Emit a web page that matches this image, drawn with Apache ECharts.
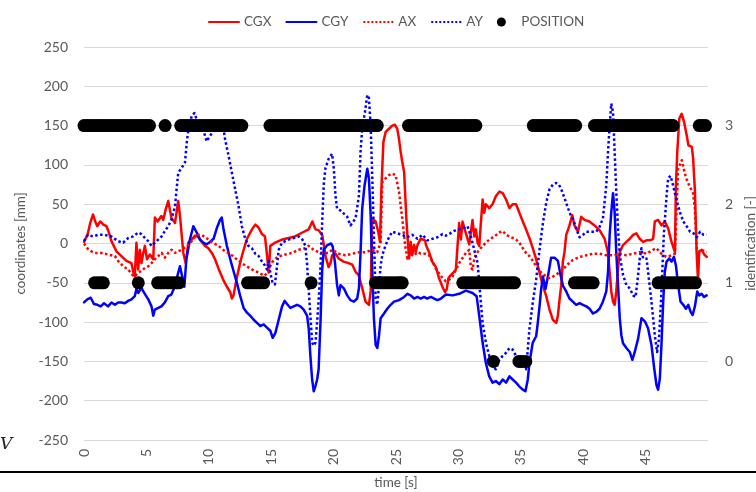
<!DOCTYPE html>
<html><head><meta charset="utf-8">
<script src="https://cdn.jsdelivr.net/npm/echarts@6.0.0/dist/echarts.min.js"></script>
<style>html,body{margin:0;padding:0;background:#fff}#c{width:756px;height:492px}</style>
</head><body><div id="c"></div>
<script>
// time [s] / value pairs
const CGX = [[0,2],[0.3,12],[0.5,26],[0.72,37],[0.9,28],[1.07,22],[1.3,28],[1.55,24],[1.8,22],[1.95,16],[2.2,3],[2.6,-10],[3.0,-16],[3.4,-22],[3.8,-25],[3.95,-36],[4.07,-42],[4.2,1],[4.34,-33],[4.47,-8],[4.6,-25],[4.75,-12],[4.88,-3],[5.05,-20],[5.28,-14],[5.55,-20],[5.68,33],[5.9,28],[6.2,35],[6.35,30],[6.54,43],[6.75,54],[7.0,33],[7.29,26],[7.55,54],[7.69,35],[7.96,-12],[8.15,-25],[8.36,1],[8.63,5],[8.9,10],[9.16,8],[9.43,2],[9.7,-3],[9.97,-6],[10.24,-12],[10.5,-20],[10.78,-32],[11.18,-47],[11.45,-55],[11.72,-62],[11.85,-70],[11.98,-66],[12.25,-43],[12.52,-24],[12.79,-8],[13.06,6],[13.46,18],[13.73,24],[14.0,20],[14.26,12],[14.5,9],[14.66,-14],[14.8,-37],[14.93,-3],[15.3,1],[15.87,5],[16.4,7],[16.9,9],[17.5,14],[18.0,18],[18.3,28],[18.55,18],[18.8,17],[19.1,10],[19.35,-16],[19.6,-30],[19.75,-25],[19.88,-15],[20.15,-13],[20.4,-19],[20.8,-23],[21.2,-25],[21.5,-27],[21.76,-36],[22.0,-40],[22.3,-57],[22.56,-74],[22.83,-78],[22.97,-61],[23.1,32],[23.37,28],[23.58,15],[23.72,2],[23.83,70],[23.99,129],[24.17,142],[24.44,146],[24.7,150],[24.92,151],[25.1,146],[25.24,133],[25.38,116],[25.5,104],[25.65,91],[25.73,65],[25.83,32],[25.91,11],[26.05,-19],[26.18,2],[26.3,-15],[26.45,-2],[26.58,-11],[26.72,-2],[26.85,2],[26.98,6],[27.1,8],[27.33,4],[27.4,-2],[27.65,-11],[27.9,-23],[28.2,-30],[28.45,-44],[28.72,-55],[28.93,-62],[29.07,-58],[29.2,-44],[29.4,-40],[29.6,-37],[29.8,-33],[30.06,26],[30.2,5],[30.33,28],[30.6,13],[30.87,-1],[31.13,30],[31.27,9],[31.4,18],[31.54,1],[31.67,-3],[31.8,26],[31.94,56],[32.07,39],[32.2,50],[32.47,45],[32.74,50],[33.0,60],[33.28,66],[33.55,64],[33.82,56],[34.09,45],[34.35,50],[34.62,50],[34.89,39],[35.16,28],[35.42,18],[35.69,7],[35.96,-6],[36.23,-20],[36.5,-37],[36.77,-54],[37.04,-67],[37.3,-84],[37.57,-97],[37.84,-101],[37.97,-92],[38.1,-72],[38.24,-53],[38.37,-23],[38.5,-11],[38.64,11],[38.9,23],[39.12,36],[39.3,23],[39.58,15],[39.84,34],[40.1,30],[40.5,28],[40.91,23],[41.31,17],[41.72,6],[41.98,-11],[42.12,-36],[42.25,-61],[42.39,-74],[42.52,-78],[42.65,-61],[42.79,-32],[42.93,-11],[43.19,-2],[43.46,2],[43.73,6],[44.0,11],[44.26,13],[44.53,6],[44.8,2],[45.07,4],[45.34,4],[45.6,6],[45.74,28],[46.0,30],[46.27,23],[46.54,28],[46.81,19],[47.08,2],[47.35,-11],[47.43,74],[47.54,117],[47.7,159],[47.89,165],[48.08,155],[48.29,138],[48.43,125],[48.7,123],[48.8,110],[48.95,68],[49.09,-12],[49.2,-46],[49.3,-10],[49.5,-8],[49.7,-14],[49.9,-17]];

const CGY = [[0,-75],[0.27,-71],[0.54,-69],[0.8,-77],[1.07,-78],[1.34,-80],[1.6,-76],[1.93,-80],[2.2,-75],[2.47,-78],[2.73,-75],[3.0,-75],[3.27,-76],[3.54,-73],[3.8,-71],[4.07,-67],[4.2,-58],[4.34,-63],[4.47,-62],[4.6,-56],[4.75,-61],[4.88,-63],[5.15,-71],[5.41,-80],[5.55,-92],[5.68,-84],[5.95,-82],[6.2,-80],[6.48,-75],[6.75,-67],[7.0,-65],[7.29,-54],[7.55,-37],[7.69,-29],[7.87,-42],[8.04,-55],[8.2,-20],[8.5,6],[8.76,22],[9.03,14],[9.3,5],[9.56,1],[9.83,-1],[10.1,2],[10.38,6],[10.65,20],[10.9,30],[11.04,33],[11.18,18],[11.45,-3],[11.72,-20],[11.98,-35],[12.25,-50],[12.52,-67],[12.79,-82],[13.06,-88],[13.33,-92],[13.6,-97],[13.86,-101],[14.13,-105],[14.4,-103],[14.66,-107],[14.93,-111],[15.12,-120],[15.33,-114],[15.6,-97],[15.87,-80],[16.08,-73],[16.27,-77],[16.54,-82],[16.8,-80],[17.07,-78],[17.34,-80],[17.6,-84],[17.88,-92],[18.01,-109],[18.14,-143],[18.28,-173],[18.41,-188],[18.55,-181],[18.68,-173],[18.8,-160],[18.95,-100],[19.08,-35],[19.21,-8],[19.5,-2],[19.8,0],[19.93,-4],[20.1,-23],[20.28,-53],[20.42,-66],[20.55,-53],[20.82,-57],[21.09,-66],[21.35,-72],[21.62,-74],[21.89,-70],[22.03,-57],[22.16,-11],[22.29,44],[22.48,74],[22.7,95],[22.83,83],[22.97,36],[23.1,-36],[23.23,-95],[23.37,-129],[23.5,-133],[23.64,-117],[23.77,-95],[24.04,-89],[24.3,-83],[24.57,-78],[24.84,-74],[25.24,-72],[25.65,-68],[25.91,-64],[26.18,-66],[26.45,-70],[26.72,-68],[26.98,-70],[27.25,-68],[27.5,-70],[27.8,-68],[28.06,-70],[28.33,-72],[28.6,-70],[29.0,-65],[29.53,-66],[30.06,-64],[30.6,-60],[31.13,-63],[31.46,-67],[31.67,-92],[31.94,-126],[32.2,-152],[32.47,-169],[32.74,-177],[33.0,-175],[33.28,-179],[33.55,-173],[33.82,-177],[34.09,-169],[34.35,-173],[34.62,-177],[34.89,-182],[35.16,-186],[35.37,-188],[35.56,-173],[35.69,-152],[35.96,-126],[36.23,-118],[36.36,-101],[36.5,-80],[36.63,-58],[36.77,-42],[36.98,-58],[37.17,-42],[37.43,-18],[37.7,-18],[37.97,-22],[38.16,-38],[38.38,-54],[38.64,-61],[38.9,-70],[39.17,-74],[39.44,-78],[39.71,-76],[39.98,-78],[40.25,-80],[40.51,-83],[40.78,-89],[41.05,-87],[41.31,-83],[41.58,-74],[41.85,-61],[41.99,-36],[42.12,11],[42.25,40],[42.39,64],[42.52,40],[42.65,-11],[42.79,-53],[42.93,-95],[43.06,-117],[43.19,-127],[43.46,-133],[43.73,-138],[43.94,-148],[44.13,-138],[44.4,-121],[44.67,-95],[44.94,-99],[45.2,-108],[45.47,-129],[45.69,-159],[45.87,-180],[46.0,-186],[46.14,-172],[46.27,-129],[46.41,-74],[46.54,-36],[46.68,-23],[46.89,-19],[47.08,-23],[47.27,-17],[47.43,-28],[47.61,-53],[47.8,-74],[48.02,-78],[48.23,-83],[48.42,-78],[48.61,-87],[48.77,-91],[48.95,-80],[49.14,-61],[49.3,-66],[49.49,-64],[49.68,-68],[49.89,-66]];

const AX = [[0,0],[0.32,-7],[0.59,-10],[0.86,-12],[1.39,-12],[1.93,-14],[2.47,-16],[2.73,-22],[3.14,-29],[3.54,-33],[3.8,-39],[4.07,-42],[4.34,-37],[4.6,-35],[4.88,-31],[5.15,-29],[5.41,-25],[5.68,-20],[5.95,-16],[6.22,-12],[6.48,-18],[6.75,-12],[7.02,-8],[7.29,-12],[7.55,-10],[7.82,-8],[8.09,-5],[8.36,-2],[8.63,3],[8.9,9],[9.16,11],[9.43,11],[9.7,8],[9.97,5],[10.24,2],[10.78,-3],[11.31,-10],[11.85,-15],[12.38,-22],[12.92,-28],[13.45,-33],[13.99,-37],[14.45,-41],[14.7,-37],[15.06,-24],[15.5,-17],[16.13,-14],[16.67,-12],[17.2,-8],[17.74,-6],[18.0,-3],[18.4,-8],[18.8,-11],[19.2,-12],[19.6,-12],[19.88,-8],[20.42,-13],[20.95,-15],[21.5,-13],[22.03,-11],[22.56,-11],[23.1,-8],[23.5,-11],[23.77,2],[23.9,78],[24.17,83],[24.44,87],[24.7,89],[24.97,87],[25.24,66],[25.5,32],[25.73,-2],[25.91,-19],[26.18,-11],[26.45,-15],[26.72,-11],[26.98,-13],[27.38,-13],[27.65,-15],[27.92,-23],[28.19,-32],[28.45,-38],[28.72,-44],[28.99,-48],[29.26,-46],[29.53,-42],[30.06,-25],[30.6,-12],[30.87,-8],[31.0,-30],[31.13,-33],[31.27,-20],[31.4,-14],[31.67,-8],[32.07,-1],[32.47,5],[32.87,9],[33.28,14],[33.55,16],[33.82,11],[34.09,9],[34.35,7],[34.62,5],[34.89,1],[35.16,-6],[35.42,-12],[35.69,-16],[35.96,-22],[36.23,-29],[36.5,-35],[36.77,-39],[37.04,-42],[37.3,-44],[37.57,-42],[37.84,-40],[38.1,-36],[38.38,-34],[38.64,-28],[39.17,-21],[39.71,-17],[40.25,-15],[40.78,-13],[41.31,-13],[41.85,-15],[42.39,-15],[42.93,-13],[43.46,-15],[44.0,-13],[44.53,-11],[45.07,-13],[45.6,-8],[45.87,-6],[46.14,-11],[46.41,-15],[46.68,-17],[47.08,-15],[47.35,-13],[47.43,20],[47.6,95],[47.9,106],[48.1,92],[48.3,81],[48.55,72],[48.8,64],[48.95,45],[49.1,-8],[49.3,-12],[49.6,-9],[49.9,-11]];

const AY = [[0,3],[0.32,11],[0.72,9],[1.13,11],[1.66,11],[2.2,9],[2.73,3],[3.14,1],[3.54,7],[3.94,9],[4.34,14],[4.6,12],[4.88,7],[5.15,3],[5.41,-3],[5.68,1],[5.95,5],[6.22,9],[6.48,16],[6.75,22],[7.02,31],[7.29,47],[7.42,69],[7.55,90],[7.82,96],[8.09,103],[8.23,128],[8.36,145],[8.63,162],[8.84,166],[9.03,158],[9.3,148],[9.55,145],[9.83,130],[10.1,137],[10.37,143],[10.64,149],[10.9,154],[11.1,155],[11.31,132],[11.58,112],[11.85,90],[12.1,70],[12.38,48],[12.65,22],[12.92,6],[13.18,-3],[13.45,-6],[13.72,-13],[13.99,-16],[14.26,-23],[14.5,-28],[14.66,-33],[14.8,-22],[14.93,-38],[15.11,-50],[15.3,-52],[15.46,-30],[15.6,-8],[15.86,1],[16.4,5],[16.8,7],[17.2,9],[17.5,5],[17.74,-3],[17.87,-25],[18.0,-58],[18.14,-92],[18.28,-126],[18.41,-130],[18.55,-126],[18.68,-100],[18.81,-70],[18.95,-30],[19.08,25],[19.21,75],[19.35,96],[19.61,108],[19.88,114],[20.02,95],[20.15,61],[20.28,44],[20.55,42],[20.82,38],[21.09,34],[21.35,23],[21.49,25],[21.76,32],[22.03,61],[22.16,117],[22.29,146],[22.51,167],[22.7,189],[22.83,185],[22.97,150],[23.1,83],[23.23,11],[23.37,-70],[23.5,-78],[23.64,-53],[23.77,-28],[23.9,-15],[24.17,-2],[24.44,8],[24.7,15],[25.11,13],[25.51,11],[25.91,8],[26.31,11],[26.72,6],[27.12,11],[27.52,4],[27.93,6],[28.33,8],[28.73,12],[29.0,10],[29.26,12],[29.66,16],[30.06,18],[30.47,20],[30.73,22],[31.0,9],[31.27,-8],[31.54,-25],[31.67,-50],[31.8,-75],[31.94,-101],[32.2,-126],[32.47,-143],[32.74,-156],[33.0,-160],[33.28,-148],[33.55,-143],[33.82,-139],[34.09,-133],[34.35,-135],[34.62,-143],[34.89,-150],[35.16,-154],[35.42,-160],[35.56,-135],[35.69,-109],[35.96,-75],[36.23,-46],[36.5,-8],[36.77,26],[37.04,52],[37.3,69],[37.57,75],[37.84,77],[38.05,75],[38.24,69],[38.5,58],[38.78,45],[39.0,36],[39.17,32],[39.44,19],[39.71,8],[39.98,11],[40.25,15],[40.6,15],[41.05,15],[41.31,21],[41.58,32],[41.85,74],[41.99,117],[42.12,150],[42.25,178],[42.39,167],[42.52,117],[42.65,66],[42.79,19],[42.93,-15],[43.19,-40],[43.46,-53],[43.73,-57],[44.0,-66],[44.2,-68],[44.4,-40],[44.53,-19],[44.67,-6],[44.8,-19],[45.07,-19],[45.2,-36],[45.47,-74],[45.74,-117],[45.92,-138],[46.08,-120],[46.27,-61],[46.46,11],[46.68,61],[46.81,83],[47.0,86],[47.2,74],[47.48,55],[47.75,40],[48.02,28],[48.29,22],[48.56,15],[48.83,13],[49.1,8],[49.37,15],[49.64,11],[49.89,11]];

// POSITION: sample times at each identification level
const POS_TIMES_3 = [0,0.25,0.5,0.75,1,1.25,1.5,1.75,2,2.25,2.5,2.75,3,3.25,3.5,3.75,4,4.25,4.5,4.75,5,5.25,
  6.5,
  7.75,8,8.25,8.5,8.75,9,9.25,9.5,9.75,10,10.25,10.5,10.75,11,11.25,11.5,11.75,12,12.25,12.45,12.65,
  14.9,15.15,15.4,15.65,15.9,16.15,16.4,16.65,16.9,17.15,17.4,17.65,17.9,18.15,18.4,18.65,18.9,19.15,19.4,19.65,19.9,20.15,20.4,20.65,20.9,21.15,21.4,21.65,21.9,22.15,22.4,22.65,22.9,23.15,23.35,23.5,
  26,26.25,26.5,26.75,27,27.25,27.5,27.75,28,28.25,28.5,28.75,29,29.25,29.5,29.75,30,30.25,30.5,30.75,31,31.2,31.4,
  36,36.25,36.5,36.75,37,37.25,37.5,37.75,38,38.25,38.5,38.75,39,39.2,39.4,
  40.9,41.15,41.4,41.65,41.9,42.15,42.4,42.65,42.9,43.15,43.4,43.65,43.9,44.15,44.4,44.65,44.9,45.15,45.4,45.65,45.9,46.15,46.4,46.65,46.9,47.05,47.2,
  49.3,49.55,49.8];
const POS_TIMES_1 = [0.85,1.1,1.35,1.55,
  4.35,
  5.9,6.15,6.4,6.65,6.9,7.15,7.4,7.6,
  13.1,13.35,13.6,13.85,14.1,14.4,
  18.2,
  23.35,23.6,23.85,24.1,24.35,24.6,24.85,25.1,25.3,25.5,
  30.35,30.6,30.85,31.1,31.35,31.6,31.85,32.1,32.35,32.6,32.85,33.1,33.35,33.6,33.85,34.1,34.3,34.5,
  39.3,39.55,39.8,40.05,40.3,40.55,40.8,
  46,46.25,46.5,46.75,47,47.25,47.5,47.75,48,48.25,48.5,48.75,49];
const POS_TIMES_0 = [32.8,34.85,35.1,35.4];

const X_TICK_LABELS = ['0','5','10','15','20','25','30','35','40','45'];
const Y_LEFT = {min:-250, max:250, step:50};
const Y_RIGHT_LABELS = ['0','1','2','3'];

const position = []
  .concat(POS_TIMES_3.map(t => [t, 3]))
  .concat(POS_TIMES_1.map(t => [t, 1]))
  .concat(POS_TIMES_0.map(t => [t, 0]));

const FONT = 'Lato';
const GREY = '#595959';

const chart = echarts.init(document.getElementById('c'), null, {renderer:'canvas'});
const lineS = (name, data, color, type) => ({
  name, type:'line', data, symbol:'none', showSymbol:false, animation:false,
  yAxisIndex:0, z:2,
  lineStyle:{color, width:2.5, type, cap: type==='solid'?'round':'butt', join:'round'},
  itemStyle:{color}
});
const hiddenSym = {opacity:0};
chart.setOption({
  animation:false,
  backgroundColor:'#fff',
  textStyle:{fontFamily:FONT},
  grid:{left:84, right:48, top:47, bottom:52, containLabel:false, outerBoundsMode:'none'},
  legend:{
    top:10, left:203, itemWidth:30, itemHeight:9, itemGap:14,
    textStyle:{color:GREY, fontSize:13.5, fontFamily:FONT},
    data:[
      {name:'CGX', itemStyle:hiddenSym},
      {name:'CGY', itemStyle:hiddenSym},
      {name:'AX', itemStyle:hiddenSym},
      {name:'AY', itemStyle:hiddenSym},
      {name:'POSITION', icon:'circle'}
    ]
  },
  xAxis:{
    type:'value', min:0, max:50, interval:5,
    name:'time [s]', nameLocation:'middle', nameGap:36,
    nameTextStyle:{color:GREY, fontSize:13.5, fontFamily:FONT},
    axisLine:{show:false}, axisTick:{show:false}, splitLine:{show:false},
    axisLabel:{color:GREY, fontSize:14, fontFamily:FONT, rotate:90, margin:9,
      formatter: v => { const i = Math.round(v/5); return (Math.abs(v - i*5) < 1e-6 && i < X_TICK_LABELS.length) ? X_TICK_LABELS[i] : ''; }}
  },
  yAxis:[{
    type:'value', min:Y_LEFT.min, max:Y_LEFT.max, interval:Y_LEFT.step, position:'left',
    name:'coordinates [mm]', nameLocation:'middle', nameGap:52, nameRotate:90,
    nameTextStyle:{color:GREY, fontSize:13.5, fontFamily:FONT},
    axisLine:{show:false}, axisTick:{show:false},
    splitLine:{show:true, lineStyle:{color:'#d9d9d9', width:1}},
    axisLabel:{color:GREY, fontSize:14, fontFamily:FONT, margin:16}
  },{
    type:'value', min:-1, max:4, interval:1, position:'right',
    name:'identification [-]', nameLocation:'middle', nameGap:34, nameRotate:90,
    nameTextStyle:{color:GREY, fontSize:13.5, fontFamily:FONT},
    axisLine:{show:false}, axisTick:{show:false}, splitLine:{show:false},
    axisLabel:{color:GREY, fontSize:14, fontFamily:FONT, margin:17,
      formatter: v => (v >= 0 && v <= 3) ? Y_RIGHT_LABELS[v] : ''}
  }],
  series:[
    lineS('CGX', CGX, '#FF0000', 'solid'),
    lineS('CGY', CGY, '#0000FF', 'solid'),
    lineS('AX', AX, '#FF0000', 'dotted'),
    lineS('AY', AY, '#0000FF', 'dotted'),
    {name:'POSITION', type:'scatter', yAxisIndex:1, data:position, symbol:'circle',
     symbolSize:13, itemStyle:{color:'#000', opacity:1}, z:3, animation:false, clip:false}
  ],
  graphic:[
    {type:'line', shape:{x1:0, y1:472, x2:756, y2:472}, style:{stroke:'#000', lineWidth:2}, z:10},
    {type:'text', left:0, top:436, style:{text:'V', font:'italic 17px "DejaVu Serif"', fill:'#222'}, z:10}
  ]
});
</script>
</body></html>
